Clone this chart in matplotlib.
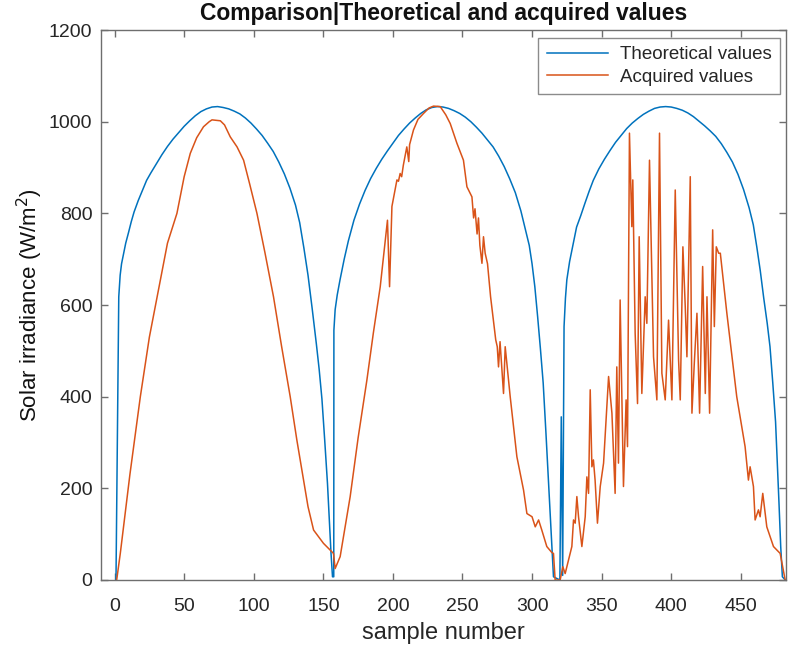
import matplotlib
matplotlib.use("Agg")
import matplotlib.pyplot as plt

# ---------------- data ----------------
theo_x = [1, 3, 4, 5, 6.5, 8, 10, 12, 14, 17, 20, 23, 26, 30, 34, 38, 42, 46, 50, 54, 58, 62, 66, 70,
          74, 78, 82, 86, 90, 94, 98, 102, 106, 110, 114, 118, 122, 126, 130, 133, 136, 139, 142,
          145, 147, 149, 151, 153, 154.5, 155.5, 156.6,
          157.5, 157.6, 158.5, 160, 162, 165, 168, 172, 176, 180, 184, 188, 192, 196, 200, 204, 208,
          212, 216, 220, 224, 228, 232, 236, 240, 244, 248, 252, 256, 260, 264, 268, 272, 276, 280,
          284, 288, 292, 295, 298, 300, 302, 304, 306, 308, 310, 312, 313.5, 314.5, 315.4, 320,
          321, 322, 323,
          324, 325, 327, 329, 332, 335, 338, 341, 344, 348, 352, 356, 360, 364, 368, 372, 376, 380,
          384, 388, 392, 396, 400, 404, 408, 412, 416, 420, 424, 428, 432, 436, 440, 444, 448, 452,
          456, 459, 461.5, 464, 466.5, 469, 471, 473, 475, 476.5, 477.5, 478.7, 479.9, 482]
theo_y = [0, 618, 665, 690, 713, 735, 758, 782, 803, 828, 850, 872, 888, 908, 928, 946, 962, 976, 990,
          1002, 1013, 1022, 1028, 1032, 1033, 1031, 1028, 1023, 1017, 1008, 997, 984, 970, 953, 935,
          912, 886, 855, 818, 780, 725, 665, 592, 515, 460, 395, 305, 210, 120, 60, 7,
          7, 545, 590, 622, 655, 700, 740, 785, 820, 850, 876, 898, 918, 936, 953, 970, 984,
          997, 1008, 1018, 1026, 1031, 1033, 1032, 1029, 1024, 1018, 1010, 1000, 988, 975, 960, 945,
          925, 902, 875, 845, 805, 768, 730, 690, 640, 575, 505, 430, 320, 205, 120, 60, 7, 0,
          356, 10, 553,
          615, 655, 695, 725, 770, 795, 822, 848, 872, 897, 918, 937, 955, 970, 985, 997, 1007, 1016,
          1023, 1029, 1032, 1033, 1032, 1029, 1025, 1019, 1011, 1001, 991, 980, 968, 952, 933, 912,
          885, 852, 812, 775, 727, 675, 615, 560, 509, 430, 345, 240, 165, 73, 7, 0]

acq_x = [1.5, 4.1, 11, 18.5, 25, 32.9, 38, 44.8, 50, 54.4, 59, 63.9, 68, 70, 76, 79, 83.1, 88, 92.7, 97,
         102.3, 108, 114.2, 120, 126.2, 131, 135.8, 139, 143, 150.1, 157.3, 158.5,
         162.1, 169.3, 175, 181.3, 186, 190.9, 196.1, 197.6, 199.3, 202.9, 204, 205.2, 206.3, 207.5,
         210, 211.4, 212, 214.8, 218, 222, 226, 229.2, 234, 238, 241.2, 246, 250.7, 253.2, 256.8,
         258, 259, 260.5, 261.5, 262.5, 264, 265.1, 266.3, 268, 270.2, 273.9, 275, 275.9, 277,
         279.5, 280.7, 284.3, 289.1, 293.9, 296.3, 300, 302.3, 304.7, 307, 310.6, 314.2, 315.4,
         316.6, 320.2, 322.1, 323.8,
         328.6, 329.8, 331, 332.2, 333.4, 335.8, 338.2, 339.4, 340.6, 341.8, 343, 344.1, 345.3,
         347, 349, 351.4, 355, 357.4, 359.7, 360.9, 362.1, 363.3, 365.7, 367.6, 368.6, 370,
         371.7, 372.4, 374.1, 375.8, 377, 378.9, 381.3, 382.5, 384.4, 387.3, 389.7, 391.6,
         393.3, 395.7, 398.1, 400.5, 402.9, 405.3, 406.5, 408.4, 410.1, 411.3, 413.7, 414.9,
         416.6, 418.5, 420.4, 422.6, 424.5, 425.7, 427.6, 429.8, 431, 432.4, 434.1, 435.3,
         440, 447.1, 453.1, 455.5, 456.7, 459.1, 460.3, 462.7, 463.9, 465.8, 468.7, 473.5,
         478.3, 481.9]
acq_y = [0, 58, 230, 400, 530, 655, 735, 800, 880, 931, 965, 989, 1000, 1004, 1002, 993, 967, 945, 916, 865,
         800, 715, 618, 510, 400, 305, 218, 160, 109, 80, 58, 25,
         51, 182, 310, 436, 540, 640, 785, 640, 815, 873, 870, 887, 880, 905,
         945, 913, 950, 982, 1005, 1018, 1030, 1034, 1033, 1015, 996, 953, 916, 858, 836,
         790, 810, 755, 790, 730, 691, 749, 713, 690, 618, 524, 509, 465, 520,
         407, 509, 400, 269, 196, 145, 138, 116, 131, 109, 73, 60, 58,
         0, 0, 29, 14,
         73, 131, 124, 182, 138, 73, 138, 225, 189, 415, 247, 262, 218,
         124, 204, 255, 444, 364, 189, 465, 255, 611, 204, 393, 291, 975,
         771, 873, 538, 385, 749, 407, 618, 560, 916, 487, 393, 975,
         451, 393, 567, 393, 851, 480, 393, 727, 596, 487, 880, 364,
         473, 582, 364, 684, 407, 618, 364, 764, 553, 727, 713, 713,
         582, 400, 291, 218, 247, 204, 131, 153, 138, 189, 116, 73,
         58, 0]

labels = ["Theoretical values", "Acquired values"]
colors = ["#0072BD", "#D95319"]

# ---------------- figure ----------------
plt.rcParams['font.family'] = ['Liberation Sans', 'DejaVu Sans']
fig = plt.figure(figsize=(7.89, 6.53), dpi=100)
ax = fig.add_axes([0.1276, 0.1118, 0.8686, 0.8422])

ax.plot(theo_x, theo_y, color=colors[0], lw=1.1, label=labels[0])
ax.plot(acq_x, acq_y, color=colors[1], lw=1.1, label=labels[1])

ax.set_xlim(-10, 482.5)
ax.set_ylim(0, 1200)
ax.set_xticks(range(0, 451, 50))
ax.set_yticks(range(0, 1201, 200))

axcol = "#6e6e6e"
for s in ax.spines.values():
    s.set_color(axcol)
    s.set_linewidth(1.0)
ax.tick_params(direction='in', top=True, right=True, length=5, width=1.0,
               color=axcol, labelcolor='#262626', labelsize=14)
ax.tick_params(axis='x', pad=13)
ax.tick_params(axis='y', pad=6)

ax.set_title("Comparison|Theoretical and acquired values", fontsize=16.5,
             fontweight='bold', pad=7, color='#111111')
ax.set_xlabel("sample number", fontsize=17, color='#262626', labelpad=5)
ax.set_ylabel("Solar irradiance (W/m$^2$)", fontsize=16, color='#111111', labelpad=3)

leg = ax.legend(loc='upper right', bbox_to_anchor=(0.991, 0.986), borderaxespad=0,
                fancybox=False, edgecolor=axcol, fontsize=13.5, handlelength=3.3,
                handletextpad=0.6, borderpad=0.45, labelspacing=0.3)
leg.get_frame().set_linewidth(1.0)
for t in leg.get_texts():
    t.set_color('#262626')

fig.savefig("out.png", dpi=100)
